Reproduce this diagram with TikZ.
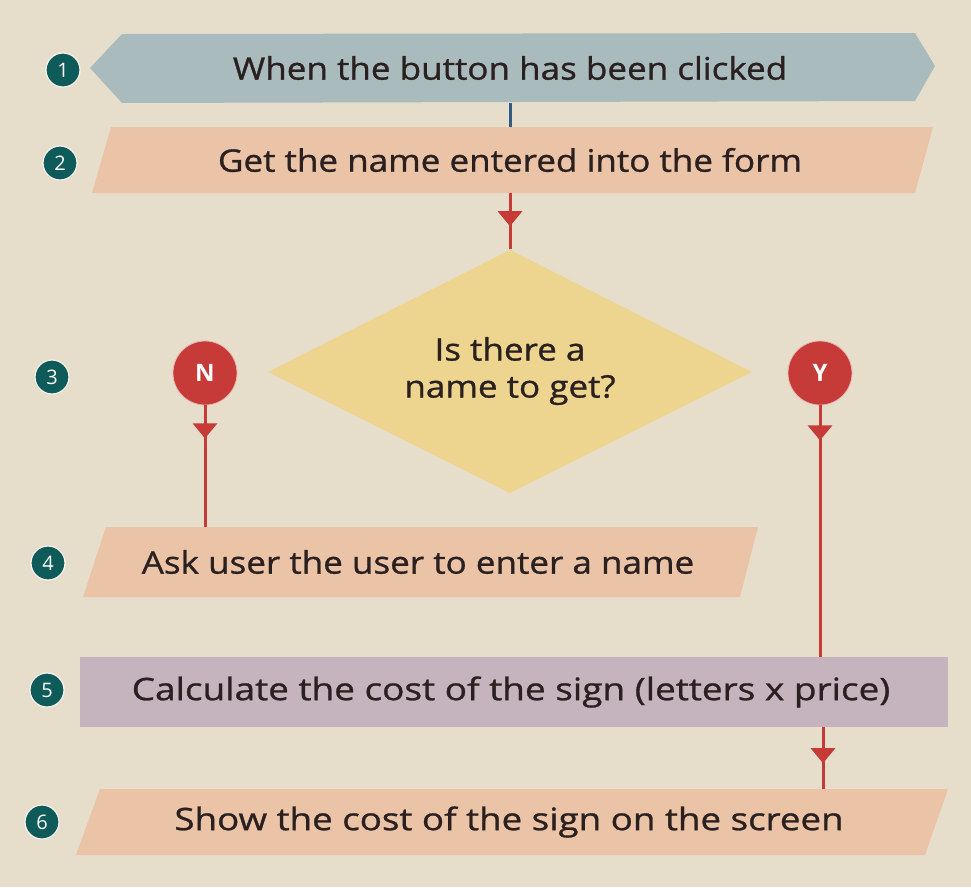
\documentclass[tikz,border=0pt]{standalone}
\usepackage{fontspec}
\setmainfont{Open Sans}[FakeStretch=1.13,FakeBold=0.9]
\newfontfamily\numfont{Open Sans}
\usetikzlibrary{arrows.meta,decorations.markings}
\definecolor{bg}{HTML}{E6DECB}
\definecolor{hexc}{HTML}{A9BBBD}
\definecolor{peach}{HTML}{EBC3A6}
\definecolor{yel}{HTML}{EDD58F}
\definecolor{lav}{HTML}{C5B3BE}
\definecolor{redc}{HTML}{C63B38}
\definecolor{tealc}{HTML}{0E5B5A}
\definecolor{bluel}{HTML}{2E5C82}
\definecolor{ink}{HTML}{2A2020}
\begin{document}
\begin{tikzpicture}[x=1pt,y=-1pt,
  lbl/.style={font=\fontsize{31}{37}\selectfont, text=ink, inner sep=0, minimum width=10pt},
  num/.style={circle, fill=tealc, draw=white!70!bg, line width=1.2pt, minimum size=34pt, inner sep=0, text=white, font=\numfont\fontsize{20}{20}\selectfont},
  yn/.style={circle, fill=redc, draw=white!60!redc, line width=0.8pt, minimum size=64pt, inner sep=0, text=white, font=\numfont\fontsize{24}{24}\selectfont\bfseries},
  redline/.style={draw=redc, line width=3pt},
  midarrow/.style={postaction={decorate}, decoration={markings, mark=at position #1 with {\arrow{Triangle[width=24pt,length=15pt]}}}}
]
\useasboundingbox[fill=bg] (0,0) rectangle (971,887);
% shapes
\fill[hexc] (90,68) -- (122,34) -- (915,33) -- (935,66) -- (915,101) -- (122,103) -- cycle;
\fill[peach] (111,127) -- (933,127) -- (915,193) -- (92,193) -- cycle;
\fill[yel] (510,250) -- (752,372) -- (510,493) -- (268,372) -- cycle;
\fill[peach] (106,527) -- (758,527) -- (740,597) -- (83,597) -- cycle;
\fill[lav] (80,657) rectangle (948,727);
\fill[peach] (100,789) -- (948,789) -- (925,855) -- (76,855) -- cycle;
% text nodes
\node[lbl, minimum height=70pt] (s1) at (510,68) {When the button has been clicked};
\node[lbl, minimum height=66pt] (s2) at (510,160) {Get the name entered into the form};
\node[lbl, minimum height=243pt, align=center] (d) at (510,371) {Is there a\\name to get?};
\node[lbl, minimum height=70pt] (s4) at (418,562) {Ask user the user to enter a name};
\node[lbl, minimum height=70pt] (s5) at (511,692) {\scalebox{1.055}[1]{Calculate the cost of the sign (letters x price)}};
\node[lbl, minimum height=66pt] (s6) at (509,822) {\scalebox{1.048}[1]{Show the cost of the sign on the screen}};
\node[yn] (n) at (205,373) {N};
\node[yn] (y) at (820,373) {Y};
\coordinate (c56) at (823,692);
% numbers
\node[num] (n1) at (63,70) {1};
\node[num] (n2) at (60,163) {2};
\node[num] (n3) at (52,377) {3};
\node[num] (n4) at (48,563) {4};
\node[num] (n5) at (47,690) {5};
\node[num] (n6) at (42,822) {6};
% connectors
\draw[draw=bluel, line width=3pt] (s1.south) -- (s2.north);
\draw[redline, fill=redc, midarrow=33pt] (s2.south) -- (d.north);
\draw[redline, fill=redc, midarrow=33pt] (n.south) -- (n.south |- s4.north);
\draw[redline, fill=redc, midarrow=35pt] (y.south) -- (y.south |- s5.north);
\draw[redline, fill=redc, midarrow=36pt] (c56 |- s5.south) -- (c56 |- s6.north);
\end{tikzpicture}
\end{document}
